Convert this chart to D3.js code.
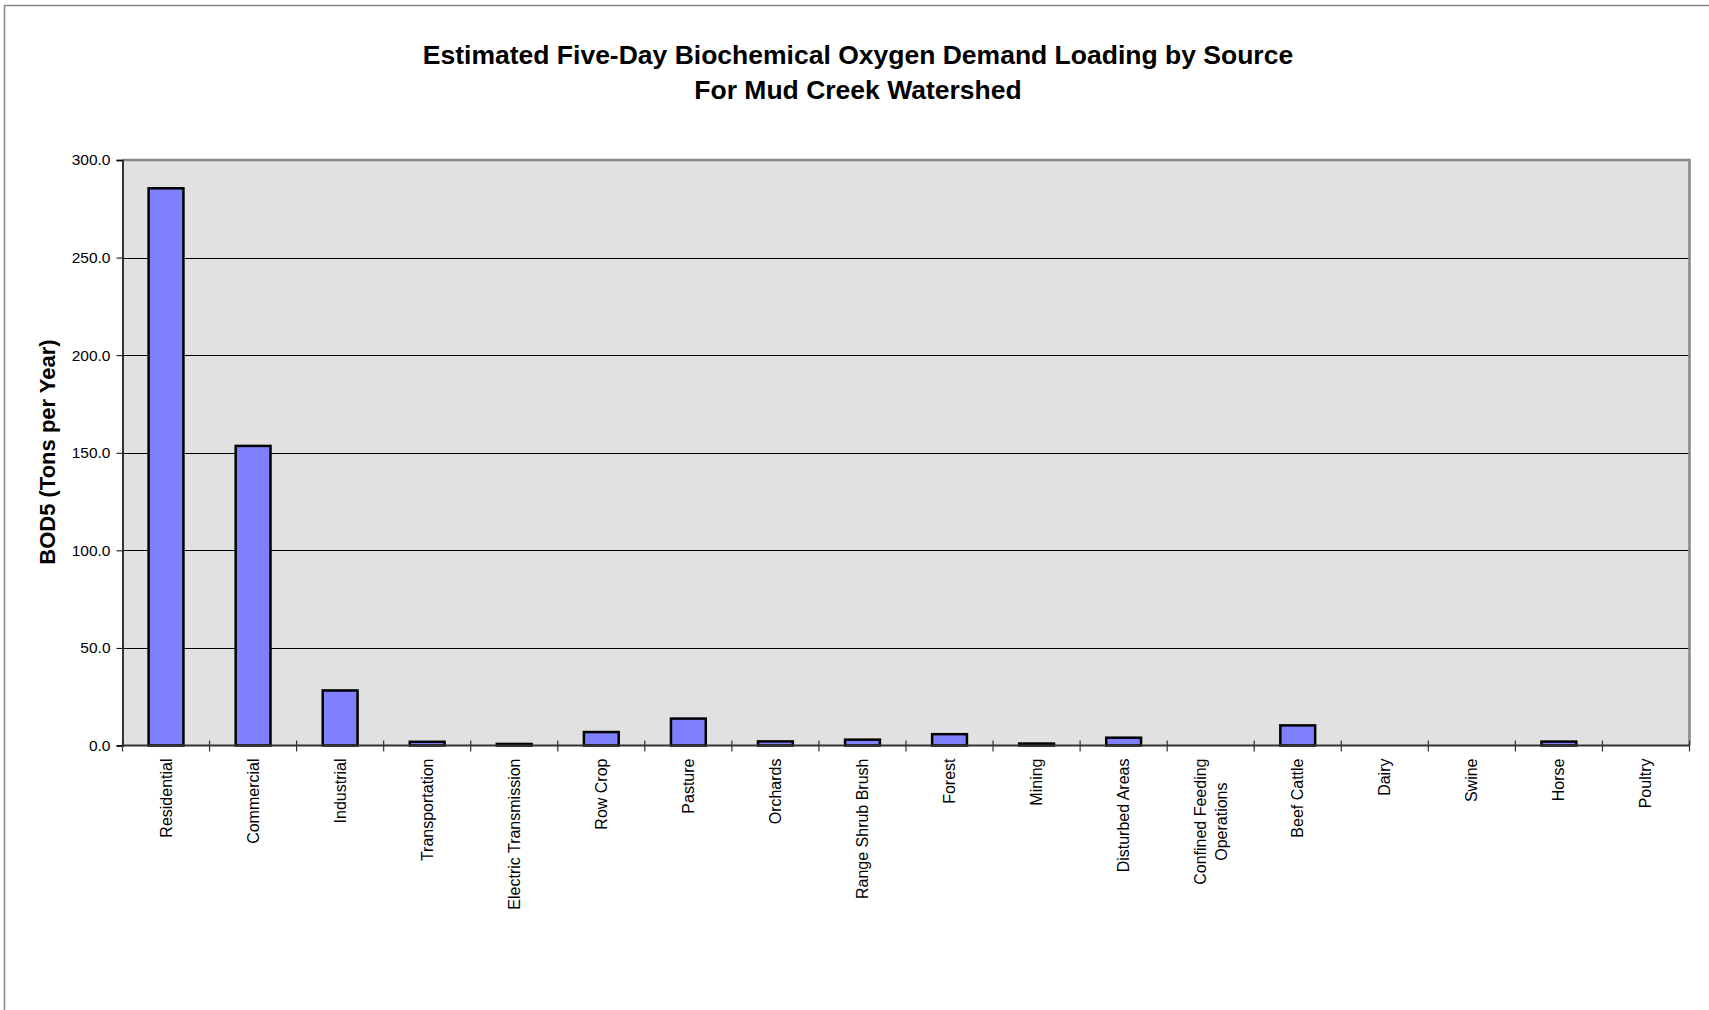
<!DOCTYPE html>
<html>
<head>
<meta charset="utf-8">
<script src="https://cdn.jsdelivr.net/npm/d3@7"></script>
<style>
  html, body { margin: 0; padding: 0; background: #fff; }
  svg { display: block; font-family: Arial, "Liberation Sans", sans-serif; }
</style>
</head>
<body>
<svg id="chart" width="1709" height="1010"></svg>
<script>
const categories = ["Residential", "Commercial", "Industrial", "Transportation", "Electric Transmission",
  "Row Crop", "Pasture", "Orchards", "Range Shrub Brush", "Forest", "Mining", "Disturbed Areas",
  "Confined Feeding\nOperations", "Beef Cattle", "Dairy", "Swine", "Horse", "Poultry"];
const values = [285.5, 153.5, 28.2, 1.9, 0.8, 6.9, 13.8, 2.1, 3.0, 5.8, 1.0, 4.0, 0, 10.3, 0, 0, 2.0, 0];
const yTicks = [0, 50, 100, 150, 200, 250, 300];
const titleLines = ["Estimated Five-Day Biochemical Oxygen Demand Loading by Source", "For Mud Creek Watershed"];
const yTitle = "BOD5 (Tons per Year)";

const svg = d3.select("#chart");
const plot = { left: 122.5, right: 1689.5, top: 160, bottom: 745.5 };

// outer frame
svg.append("rect").attr("x", 4.5).attr("y", 5.5).attr("width", 1800).attr("height", 1200)
  .attr("fill", "none").attr("stroke", "#888").attr("stroke-width", 1.5);

const x = d3.scaleBand().domain(categories).range([plot.left, plot.right]).paddingInner(0).paddingOuter(0);
const y = d3.scaleLinear().domain([0, 300]).range([plot.bottom, plot.top]);

// plot background
svg.append("rect").attr("x", plot.left).attr("y", plot.top)
  .attr("width", plot.right - plot.left).attr("height", plot.bottom - plot.top)
  .attr("fill", "#e1e1e1");

// gridlines
svg.append("g").selectAll("line").data(yTicks.filter(t => t > 0 && t < 300)).join("line")
  .attr("x1", plot.left).attr("x2", plot.right)
  .attr("y1", d => Math.round(y(d)) + 0.5).attr("y2", d => Math.round(y(d)) + 0.5)
  .attr("stroke", "#000").attr("stroke-width", 1);

// top & right border
svg.append("path")
  .attr("d", `M${plot.left},${plot.top} H${plot.right} V${plot.bottom}`)
  .attr("fill", "none").attr("stroke", "#888").attr("stroke-width", 2.5);

// bars
const bw = x.bandwidth() * 0.4;
svg.append("g").selectAll("rect").data(values.map((v, i) => ({ c: categories[i], v })).filter(d => d.v > 0)).join("rect")
  .attr("x", d => x(d.c) + x.bandwidth() / 2 - bw / 2)
  .attr("y", d => y(d.v))
  .attr("width", bw)
  .attr("height", d => y(0) - y(d.v))
  .attr("fill", "#8080ff").attr("stroke", "#000").attr("stroke-width", 2.5);

// y axis
const yAxis = d3.axisLeft(y).tickValues(yTicks).tickFormat(d3.format(".1f")).tickSize(6).tickPadding(6);
const gy = svg.append("g").attr("transform", `translate(${plot.left},0)`).call(yAxis);
gy.select(".domain").attr("stroke", "#333").attr("stroke-width", 2);
gy.selectAll(".tick line").attr("stroke", "#000");
gy.selectAll(".tick text").attr("font-size", 15.5).attr("fill", "#000")
  .attr("font-family", "Arial, 'Liberation Sans', sans-serif");

// x axis line with crossing ticks at band edges
svg.append("line").attr("x1", plot.left).attr("x2", plot.right)
  .attr("y1", plot.bottom).attr("y2", plot.bottom)
  .attr("stroke", "#333").attr("stroke-width", 2);
const edges = categories.map(c => x(c)).concat([plot.right]);
svg.append("g").selectAll("line").data(edges).join("line")
  .attr("x1", d => d).attr("x2", d => d)
  .attr("y1", plot.bottom - 5).attr("y2", plot.bottom + 6)
  .attr("stroke", "#333").attr("stroke-width", 1.2);

// category labels
const labelFs = 16;
const gl = svg.append("g");
categories.forEach(c => {
  const lines = c.split("\n");
  const cx = x(c) + x.bandwidth() / 2;
  const g = gl.append("g").attr("transform", `translate(${cx},${plot.bottom + 13}) rotate(-90)`);
  const texts = lines.map((ln, i) => g.append("text").text(ln)
    .attr("font-size", labelFs).attr("fill", "#000")
    .attr("dominant-baseline", "central")
    .attr("y", (i - (lines.length - 1) / 2) * labelFs * 1.3));
  const lens = texts.map(t => t.node().getComputedTextLength());
  const maxLen = Math.max(...lens);
  texts.forEach(t => t.attr("text-anchor", "middle").attr("x", -maxLen / 2));
});

// y axis title
svg.append("text").text(yTitle)
  .attr("transform", `translate(47,452) rotate(-90)`)
  .attr("text-anchor", "middle").attr("dominant-baseline", "central")
  .attr("font-size", 22).attr("font-weight", "bold").attr("fill", "#000");

// title
svg.append("g").selectAll("text").data(titleLines).join("text")
  .text(d => d)
  .attr("x", 858).attr("y", (d, i) => 64 + i * 35)
  .attr("text-anchor", "middle")
  .attr("font-size", 26.5).attr("font-weight", "bold").attr("fill", "#000");
</script>
</body>
</html>
